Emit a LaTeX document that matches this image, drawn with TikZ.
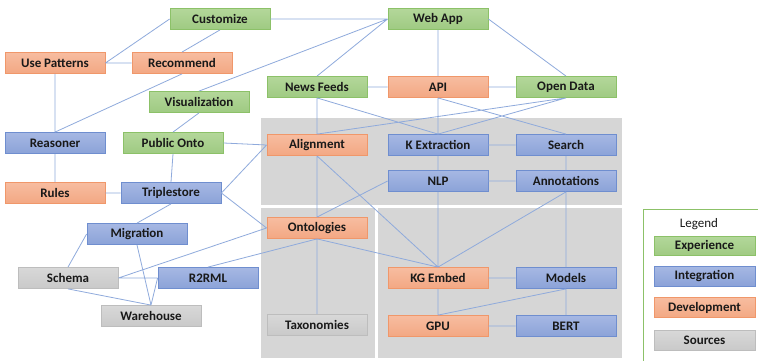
\documentclass[tikz,border=0pt]{standalone}
\usepackage{fontspec}
\setmainfont{Carlito}
\begin{document}
\begin{tikzpicture}[x=1pt,y=-1pt,
  box/.style={minimum width=100pt,minimum height=21pt,inner sep=0pt,line width=0.8pt,
    font=\fontsize{13}{15}\selectfont\bfseries,text=black!90},
  exp/.style={box,draw=LegGreen,top color=ExpTop,bottom color=ExpBot},
  integ/.style={box,draw=IntDraw,top color=IntTop,bottom color=IntBot},
  dev/.style={box,draw=DevDraw,top color=DevTop,bottom color=DevBot},
  src/.style={box,draw=SrcDraw,top color=SrcTop,bottom color=SrcBot},
  link/.style={draw=LinkBlue,line width=0.8pt},
  panel/.style={fill=PanelGray,draw=none}]

\definecolor{LegGreen}{HTML}{8CC168}
\definecolor{ExpTop}{HTML}{B3D79A}
\definecolor{ExpBot}{HTML}{9FCA82}
\definecolor{IntDraw}{HTML}{6F8ECF}
\definecolor{IntTop}{HTML}{A6B8E3}
\definecolor{IntBot}{HTML}{8BA2D8}
\definecolor{DevDraw}{HTML}{F0976A}
\definecolor{DevTop}{HTML}{F7BDA0}
\definecolor{DevBot}{HTML}{F3A883}
\definecolor{SrcDraw}{HTML}{BDBDBD}
\definecolor{SrcTop}{HTML}{D8D8D8}
\definecolor{SrcBot}{HTML}{C9C9C9}
\definecolor{LinkBlue}{HTML}{8FAADC}
\definecolor{PanelGray}{HTML}{D6D6D6}

\useasboundingbox (0,0) rectangle (758,361);
\clip (0,0) rectangle (758,361);
\fill[white] (0,0) rectangle (758,361);

% grey grouping panels
\fill[panel] (261,118) rectangle (622,205);
\fill[panel] (261,208) rectangle (375,358);
\fill[panel] (378,208) rectangle (622,358);

% legend frame
\draw[LegGreen,line width=1pt] (643,209) rectangle (780,380);
\node[font=\fontsize{13}{15}\selectfont,text=black!90] (legtitle) at (699,224) {Legend};
\node[exp,minimum width=101pt,minimum height=19pt] (lexp) at (704.5,246) {Experience};
\node[integ,minimum width=101pt,minimum height=20pt] (lint) at (704.5,276) {Integration};
\node[dev,minimum width=101pt,minimum height=20pt] (ldev) at (704.5,307.5) {Development};
\node[src,minimum width=101pt,minimum height=20pt] (lsrc) at (704.5,340.5) {Sources};

% nodes
\node[exp]   (cust)     at (220,19)  {Customize};
\node[exp]   (webapp)   at (438,19)  {Web App};
\node[dev]   (usepat)   at (55,63)   {Use Patterns};
\node[dev]   (recom)    at (182,63)  {Recommend};
\node[exp]   (visual)   at (199,102) {Visualization};
\node[exp]   (news)     at (317,87)  {News Feeds};
\node[dev]   (api)      at (438,87)  {API};
\node[exp]   (opendata) at (566,87)  {Open Data};
\node[integ] (reasoner) at (55,143)  {Reasoner};
\node[exp]   (pubonto)  at (173,143) {Public Onto};
\node[dev]   (align)    at (317,145) {Alignment};
\node[integ] (kext)     at (438,145) {K Extraction};
\node[integ] (search)   at (566,145) {Search};
\node[dev]   (rules)    at (55,193)  {Rules};
\node[integ] (triple)   at (171,193) {Triplestore};
\node[integ] (nlp)      at (438,181) {NLP};
\node[integ] (annot)    at (566,181) {Annotations};
\node[dev]   (onto)     at (317,228) {Ontologies};
\node[integ] (migr)     at (137,234) {Migration};
\node[src]   (schema)   at (68,278)  {Schema};
\node[integ] (r2rml)    at (208,278) {R2RML};
\node[dev]   (kgemb)    at (438,278) {KG Embed};
\node[integ] (models)   at (566,278) {Models};
\node[src]   (wareh)    at (151,316) {Warehouse};
\node[src]   (taxo)     at (317,325) {Taxonomies};
\node[dev]   (gpu)      at (438,326) {GPU};
\node[integ] (bert)     at (566,326) {BERT};

% connectors
\path[link]
  (cust.east) -- (webapp.west)
  (cust.south) -- (recom.north)
  (usepat.east) -- (cust.west)
  (usepat.east) -- (recom.west)
  (usepat.south) -- (reasoner.north)
  (recom.south) -- (reasoner.north)
  (webapp.west) -- (visual.north)
  (webapp.west) -- (news.north)
  (webapp.south) -- (api.north)
  (webapp.east) -- (opendata.north)
  (news.east) -- (api.west)
  (api.east) -- (opendata.west)
  (news.south) -- (align.north)
  (news.south) -- (kext.north)
  (api.south) -- (kext.north)
  (api.south) -- (search.north)
  (opendata.south) -- (align.north)
  (opendata.south) -- (kext.north)
  (visual.south) -- (pubonto.north)
  (pubonto.east) -- (align.west)
  (pubonto.south) -- (triple.north)
  (reasoner.south) -- (rules.north)
  (rules.east) -- (triple.west)
  (triple.east) -- (align.west)
  (triple.east) -- (onto.west)
  (triple.south) -- (migr.north)
  (align.south) -- (onto.north)
  (align.south) -- (kgemb.north)
  (onto.south) -- (kgemb.north)
  (nlp.south) -- (kgemb.north)
  (annot.south) -- (kgemb.north)
  (annot.south) -- (models.north)
  (nlp.west) -- (onto.north)
  (kext.south) -- (nlp.north)
  (kext.east) -- (search.west)
  (search.south) -- (annot.north)
  (nlp.east) -- (annot.west)
  (kgemb.east) -- (models.west)
  (kgemb.south) -- (gpu.north)
  (models.south) -- (gpu.north)
  (models.south) -- (bert.north)
  (gpu.east) -- (bert.west)
  (onto.south) -- (taxo.north)
  (onto.south) -- (r2rml.north)
  (onto.west) -- (schema.east)
  (schema.east) -- (r2rml.west)
  (migr.west) -- (schema.north)
  (migr.south) -- (wareh.north)
  (schema.south) -- (wareh.north)
  (r2rml.west) -- (wareh.north);
\end{tikzpicture}
\end{document}
